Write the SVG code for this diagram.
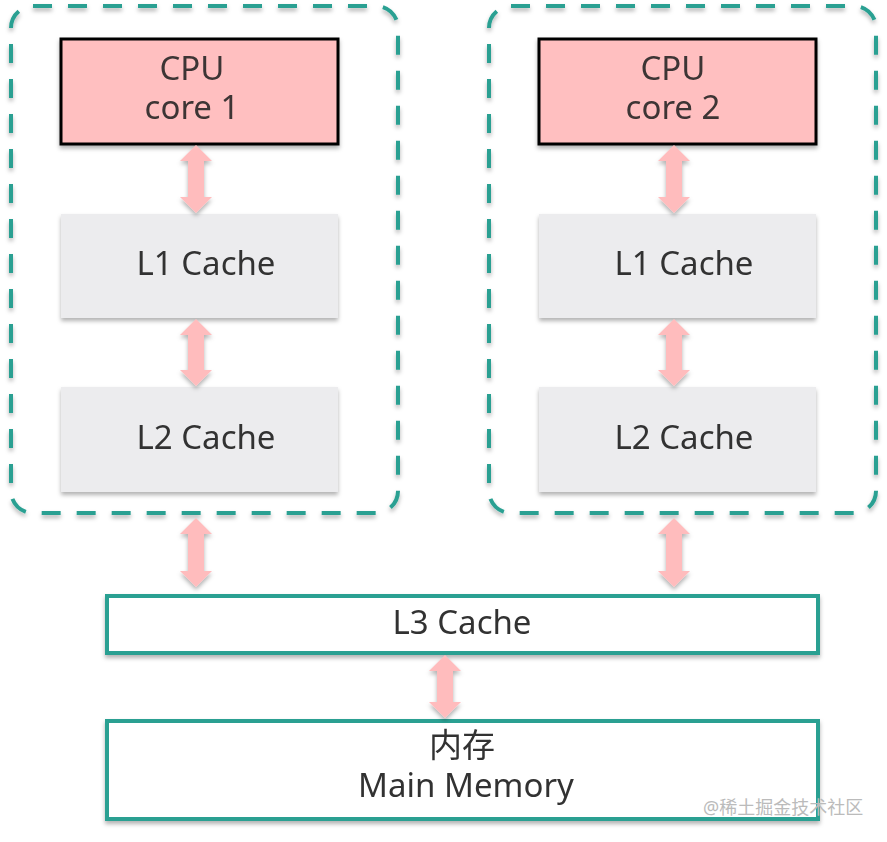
<svg xmlns="http://www.w3.org/2000/svg" width="887" height="842" viewBox="0 0 887 842">
<defs>
<filter id="sh" x="-10%" y="-10%" width="120%" height="130%">
<feDropShadow dx="0" dy="3" stdDeviation="2" flood-color="#000" flood-opacity="0.3"/>
</filter>
</defs>
<style>
.grp{fill:none;stroke:#2aa092;stroke-width:4;stroke-dasharray:19 16;stroke-linecap:butt}
.cpu{fill:#ffbfc0;stroke:#000;stroke-width:3}
.cache{fill:#ececee;stroke:none}
.solid{fill:#fff;stroke:#2aa092;stroke-width:4}
.arr{fill:#ffbcbd;stroke:none}
text{font-family:"Noto Sans","Noto Sans CJK SC",sans-serif;font-size:33px;fill:#333;text-anchor:middle}
.ct{fill:#3d3434}
.wm{font-size:18px;fill:#bbb;text-anchor:start}
</style>
<rect width="887" height="842" fill="#fff"/>
<g id="group1" filter="url(#sh)"><rect class="grp" x="11" y="6" width="387" height="507" rx="22"/></g>
<g id="group2" filter="url(#sh)"><rect class="grp" x="489" y="6" width="387" height="507" rx="22"/></g>

<g id="cpu1" filter="url(#sh)"><rect class="cpu" x="61" y="39" width="277" height="105"/><text class="ct" x="192" y="80">CPU</text><text class="ct" x="192" y="119">core 1</text></g>
<g id="l1a" filter="url(#sh)"><rect class="cache" x="61" y="214" width="277" height="104"/><text x="206" y="275">L1 Cache</text></g>
<g id="l2a" filter="url(#sh)"><rect class="cache" x="61" y="387" width="277" height="105"/><text x="206" y="449">L2 Cache</text></g>

<g id="cpu2" filter="url(#sh)"><rect class="cpu" x="539" y="39" width="277" height="105"/><text class="ct" x="673" y="80">CPU</text><text class="ct" x="673" y="119">core 2</text></g>
<g id="l1b" filter="url(#sh)"><rect class="cache" x="539" y="214" width="277" height="104"/><text x="684" y="275">L1 Cache</text></g>
<g id="l2b" filter="url(#sh)"><rect class="cache" x="539" y="387" width="277" height="105"/><text x="684" y="449">L2 Cache</text></g>

<g id="l3" filter="url(#sh)"><rect class="solid" x="107" y="596" width="711" height="57"/><text x="462" y="634">L3 Cache</text></g>
<g id="mem" filter="url(#sh)"><rect class="solid" x="107" y="721" width="711" height="98"/><text x="462" y="757">内存</text><text x="466" y="797">Main Memory</text></g>

<g id="connectors" filter="url(#sh)">
<path class="arr" d="M196,145 L212,161 L204,161 L204,197 L212,197 L196,213 L180,197 L188,197 L188,161 L180,161 Z"/>
<path class="arr" d="M196,319 L212,335 L204,335 L204,370 L212,370 L196,386 L180,370 L188,370 L188,335 L180,335 Z"/>
<path class="arr" d="M196,518 L212,534 L204,534 L204,571 L212,571 L196,587 L180,571 L188,571 L188,534 L180,534 Z"/>
<path class="arr" d="M674,145 L690,161 L682,161 L682,197 L690,197 L674,213 L658,197 L666,197 L666,161 L658,161 Z"/>
<path class="arr" d="M674,319 L690,335 L682,335 L682,370 L690,370 L674,386 L658,370 L666,370 L666,335 L658,335 Z"/>
<path class="arr" d="M674,518 L690,534 L682,534 L682,571 L690,571 L674,587 L658,571 L666,571 L666,534 L658,534 Z"/>
<path class="arr" d="M445,655 L461,671 L453,671 L453,702 L461,702 L445,718 L429,702 L437,702 L437,671 L429,671 Z"/>
</g>
<text class="wm" x="703" y="814">@稀土掘金技术社区</text>
</svg>
